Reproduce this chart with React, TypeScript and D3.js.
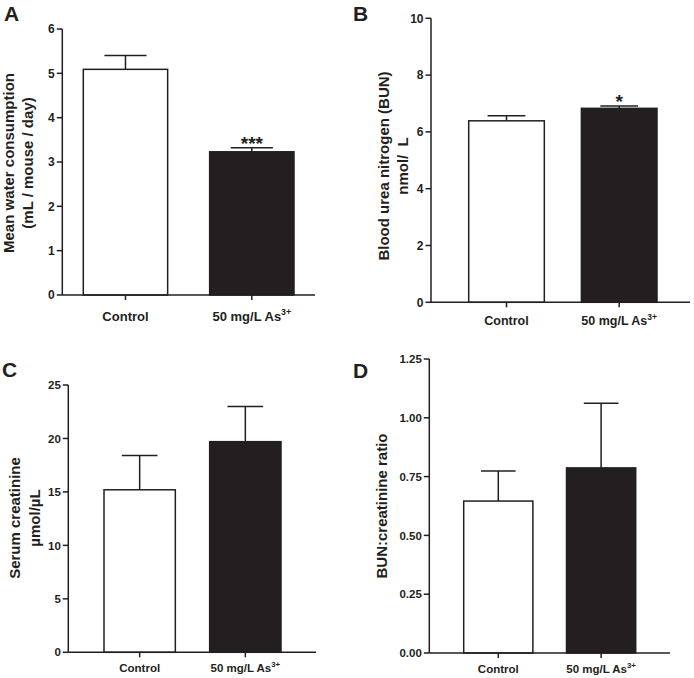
import { useEffect } from "react";
import * as d3 from "d3";

const W = 694;
const H = 678;
const INK = "#231f20";
const FONT = "'Liberation Sans', Arial, sans-serif";

// categories
const categories = ["Control", "50 mg/L As"];
const superscript = "3+";

// A: water consumption
const waterMean = [5.09, 3.23];
const waterErr = [0.31, 0.09];
const waterTicks = [0, 1, 2, 3, 4, 5, 6];
const waterStars = ["", "***"];

// B: BUN
const bunMean = [6.39, 6.83];
const bunErr = [0.18, 0.08];
const bunTicks = [0, 2, 4, 6, 8, 10];
const bunStars = ["", "*"];

// C: serum creatinine
const creatMean = [15.2, 19.7];
const creatErr = [3.2, 3.3];
const creatTicks = [0, 5, 10, 15, 20, 25];
const creatStars = ["", ""];

// D: BUN:creatinine ratio
const ratioMean = [0.646, 0.787];
const ratioErr = [0.128, 0.275];
const ratioTicks = [0, 0.25, 0.5, 0.75, 1.0, 1.25];
const ratioStars = ["", ""];

interface Layout {
  letter: string;
  letterX: number;
  letterY: number;
  left: number;
  right: number;
  top: number;
  bottom: number;
  band: [number, number];
  pad: number;
  titles: string[];
  titleX: number[];
  titleY: number;
  tickSize: number;
  catSize: number;
  catDy: number;
  fmt: (v: number) => string;
}

interface PanelProps {
  layout: Layout;
  mean: number[];
  err: number[];
  ticks: number[];
  stars: string[];
}

function Panel({ layout: L, mean, err, ticks, stars }: PanelProps) {
  const y = d3.scaleLinear().domain([0, d3.max(ticks)!]).range([L.bottom, L.top]);
  const x = d3.scaleBand<string>().domain(categories).range(L.band).paddingInner(L.pad);
  const bw = x.bandwidth();
  const cap = bw * 0.5;

  return (
    <g fontFamily={FONT} fontWeight="bold" fill={INK}>
      <text x={L.letterX} y={L.letterY} fontSize={21}>{L.letter}</text>

      {/* y title */}
      {L.titles.map((t, i) => (
        <text key={t} transform={`translate(${L.titleX[i]},${L.titleY}) rotate(-90)`}
          textAnchor="middle" fontSize={15} style={{ whiteSpace: "pre" }}>{t}</text>
      ))}

      {/* bars */}
      {categories.map((c, i) => {
        const cx = x(c)! + bw / 2;
        const yTop = y(mean[i]);
        const yErr = y(mean[i] + err[i]);
        return (
          <g key={c}>
            <line x1={cx} x2={cx} y1={yTop} y2={yErr} stroke={INK} strokeWidth={1.5} />
            <line x1={cx - cap / 2} x2={cx + cap / 2} y1={yErr} y2={yErr} stroke={INK} strokeWidth={1.5} />
            <rect x={x(c)} y={yTop} width={bw} height={L.bottom - yTop}
              fill={i === 0 ? "#fff" : INK} stroke={INK} strokeWidth={1.5} />
            {stars[i] && (
              <text x={cx} y={yErr + 2} textAnchor="middle" fontSize={19}>{stars[i]}</text>
            )}
            <line x1={cx} x2={cx} y1={L.bottom} y2={L.bottom + 5} stroke={INK} strokeWidth={1.5} />
            <text x={cx} y={L.bottom + L.catDy} textAnchor="middle" fontSize={L.catSize}>
              {c}
              {i === 1 && <tspan dy={-L.catSize * 0.42} fontSize={L.catSize * 0.68}>{superscript}</tspan>}
            </text>
          </g>
        );
      })}

      {/* axes */}
      <line x1={L.left} x2={L.right} y1={L.bottom} y2={L.bottom} stroke={INK} strokeWidth={1.5} />
      <line x1={L.left} x2={L.left} y1={L.top} y2={L.bottom} stroke={INK} strokeWidth={1.5} />
      {ticks.map(t => (
        <g key={t}>
          <line x1={L.left - 5.5} x2={L.left} y1={y(t)} y2={y(t)} stroke={INK} strokeWidth={1.5} />
          <text x={L.left - 7.5} y={y(t)} dy="0.36em" textAnchor="end" fontSize={L.tickSize}>
            {L.fmt(t)}
          </text>
        </g>
      ))}
    </g>
  );
}

const fmtInt = d3.format("d");
const fmt2 = d3.format(".2f");

const layoutA: Layout = {
  letter: "A", letterX: 4, letterY: 21,
  left: 62.3, right: 315, top: 29, bottom: 295,
  band: [83.3, 294], pad: 0.3325,
  titles: ["Mean water consumption", "(mL / mouse / day)"], titleX: [14, 33], titleY: 163,
  tickSize: 12, catSize: 13, catDy: 25.5, fmt: fmtInt,
};
const layoutB: Layout = {
  letter: "B", letterX: 353, letterY: 21,
  left: 431, right: 690, top: 18.3, bottom: 302.3,
  band: [468.7, 657], pad: 0.329,
  titles: ["Blood urea nitrogen (BUN)", "nmol/  L"], titleX: [389, 408], titleY: 166,
  tickSize: 12, catSize: 12.5, catDy: 23, fmt: fmtInt,
};
const layoutC: Layout = {
  letter: "C", letterX: 2, letterY: 376.5,
  left: 68.3, right: 316, top: 385, bottom: 652.3,
  band: [104, 281], pad: 0.325,
  titles: ["Serum creatinine", "µmol/µL"], titleX: [19.5, 39.5], titleY: 518,
  tickSize: 11.5, catSize: 11.5, catDy: 20, fmt: fmtInt,
};
const layoutD: Layout = {
  letter: "D", letterX: 353, letterY: 377.5,
  left: 429.3, right: 670, top: 359, bottom: 653,
  band: [463.7, 635.7], pad: 0.327,
  titles: ["BUN:creatinine ratio"], titleX: [387], titleY: 506,
  tickSize: 11.5, catSize: 11.5, catDy: 20, fmt: fmt2,
};

export default function App() {
  useEffect(() => {
    document.body.style.margin = "0";
  }, []);

  return (
    <svg width={W} height={H} style={{ display: "block", background: "#fff" }}>
      <Panel layout={layoutA} mean={waterMean} err={waterErr} ticks={waterTicks} stars={waterStars} />
      <Panel layout={layoutB} mean={bunMean} err={bunErr} ticks={bunTicks} stars={bunStars} />
      <Panel layout={layoutC} mean={creatMean} err={creatErr} ticks={creatTicks} stars={creatStars} />
      <Panel layout={layoutD} mean={ratioMean} err={ratioErr} ticks={ratioTicks} stars={ratioStars} />
    </svg>
  );
}
